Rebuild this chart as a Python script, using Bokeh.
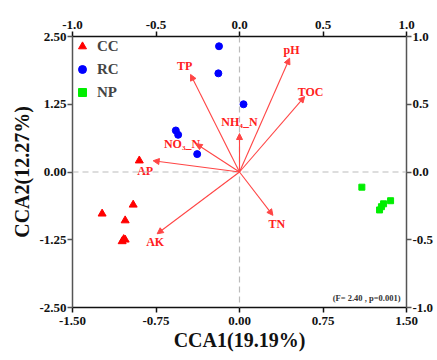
from bokeh.plotting import figure
from bokeh.models import (Range1d, LinearAxis, FixedTicker, Span, Arrow, NormalHead,
                          ColumnDataSource, Legend, LegendItem, Label, PrintfTickFormatter)
from bokeh.core.properties import value
from bokeh.embed import file_html
from bokeh.resources import INLINE

# ---- data ----
cc_x = [-0.90, -1.234, -0.955, -1.027, -1.027, -1.054, -1.04]
cc_y = [0.21, -0.77, -0.605, -0.895, -1.25, -1.28, -1.24]
rc_x = [-0.184, -0.19, 0.036, -0.572, -0.551, -0.38]
rc_y = [2.32, 1.82, 1.25, 0.766, 0.686, 0.33]
np_x = [1.099, 1.294, 1.258, 1.357, 1.275]
np_y = [-0.28, -0.587, -0.70, -0.53, -0.64]

env_names = ["pH", "TOC", "NH₄_N", "TP", "NO₃_N", "AP", "AK", "TN"]
env_x = [0.30, 0.39, 0.0, -0.293, -0.26, -0.517, -0.493, 0.20]
env_y = [0.84, 0.557, 0.284, 0.72, 0.208, 0.083, -0.456, -0.32]
lab_dx = [2, 6, 0, -6, -14, -8, -2, 4]
lab_dy = [-8, -5, -12, -8, 0, 10, 8, 9]

bottom_ticks = [-1.5, -0.75, 0.0, 0.75, 1.5]
left_ticks = [-2.5, -1.25, 0.0, 1.25, 2.5]
sec_ticks = [-1.0, -0.5, 0.0, 0.5, 1.0]

FONT = "Liberation Serif"
TICK_FONT = "'Liberation Serif', serif"

p = figure(width=436, height=359,
           x_range=Range1d(-1.5, 1.5), y_range=Range1d(-2.5, 2.5),
           output_backend="svg", toolbar_location=None,
           min_border_left=72, min_border_top=36, min_border_right=30, min_border_bottom=52)
p.extra_x_ranges = {"sec": Range1d(-1, 1)}
p.extra_y_ranges = {"sec": Range1d(-1, 1)}
p.grid.visible = False
p.outline_line_color = None

top_ax = LinearAxis(x_range_name="sec")
right_ax = LinearAxis(y_range_name="sec")
p.add_layout(top_ax, "above")
p.add_layout(right_ax, "right")
bottom_ax = p.below[0]
left_ax = p.left[0]

def style(ax, ticks, fmt, color, standoff):
    ax.ticker = FixedTicker(ticks=ticks)
    ax.formatter = PrintfTickFormatter(format=fmt)
    ax.minor_tick_line_color = None
    ax.axis_line_color = color
    ax.axis_line_width = 1.5
    ax.major_tick_line_color = color
    ax.major_tick_line_width = 1.5
    ax.major_tick_out = 5
    ax.major_tick_in = 0
    ax.major_label_text_font = TICK_FONT
    ax.major_label_text_font_style = "bold"
    ax.major_label_text_font_size = "13px"
    ax.major_label_text_color = "#111111"
    ax.major_label_standoff = standoff

style(bottom_ax, bottom_ticks, "%.2f", "#111111", 4)
style(left_ax, left_ticks, "%.2f", "#555555", 1)
style(top_ax, sec_ticks, "%.1f", "#111111", 3)
style(right_ax, sec_ticks, "%.1f", "#555555", 1)

for ax, lab, so in ((bottom_ax, "CCA1(19.19%)", 1), (left_ax, "CCA2(12.27%)", 3)):
    ax.axis_label = lab
    ax.axis_label_text_font = FONT
    ax.axis_label_text_font_style = "bold"
    ax.axis_label_text_font_size = "20px"
    ax.axis_label_text_color = "#111111"
    ax.axis_label_standoff = so

p.add_layout(Span(location=0, dimension="width", line_color="#bbbbbb", line_dash="6 4", line_width=1.2))
p.add_layout(Span(location=0, dimension="height", line_color="#bbbbbb", line_dash="6 4", line_width=1.2))

r_cc = p.scatter(cc_x, cc_y, marker="triangle", size=8, color="#ff0000")
r_rc = p.scatter(rc_x, rc_y, marker="circle", size=7, color="#0000ff")
r_np = p.scatter(np_x, np_y, marker="square", size=6, color="#00ee00")

src = ColumnDataSource(dict(x0=[0.0] * len(env_x), y0=[0.0] * len(env_y), x1=env_x, y1=env_y,
                            name=env_names, dx=lab_dx, dy=lab_dy))
p.add_layout(Arrow(end=NormalHead(size=6, fill_color="#ff4545", line_color="#ff4545"),
                   x_start="x0", y_start="y0", x_end="x1", y_end="y1", source=src,
                   line_color="#ff4545", line_width=1.1,
                   x_range_name="sec", y_range_name="sec"))
p.text(x="x1", y="y1", text="name", source=src, x_offset="dx", y_offset="dy",
       text_font=value(FONT), text_font_style="bold", text_font_size="12px",
       text_color="#ff2020", text_align="center", text_baseline="middle",
       x_range_name="sec", y_range_name="sec")

p.add_layout(Label(x=1.446, y=-2.33, text="(F= 2.40 , p=0.001)", text_font=FONT,
                   text_font_style="bold", text_font_size="8.5px", text_color="#333333",
                   text_align="right", text_baseline="middle"))

legend = Legend(items=[LegendItem(label="CC", renderers=[r_cc]),
                       LegendItem(label="RC", renderers=[r_rc]),
                       LegendItem(label="NP", renderers=[r_np])],
                location="top_left", border_line_color=None, background_fill_alpha=0,
                label_text_font=FONT, label_text_font_style="bold", label_text_font_size="15px",
                spacing=3, glyph_width=20, label_standoff=5, margin=0, padding=1)
p.add_layout(legend)

open("out.html", "w").write(file_html(p, INLINE))
